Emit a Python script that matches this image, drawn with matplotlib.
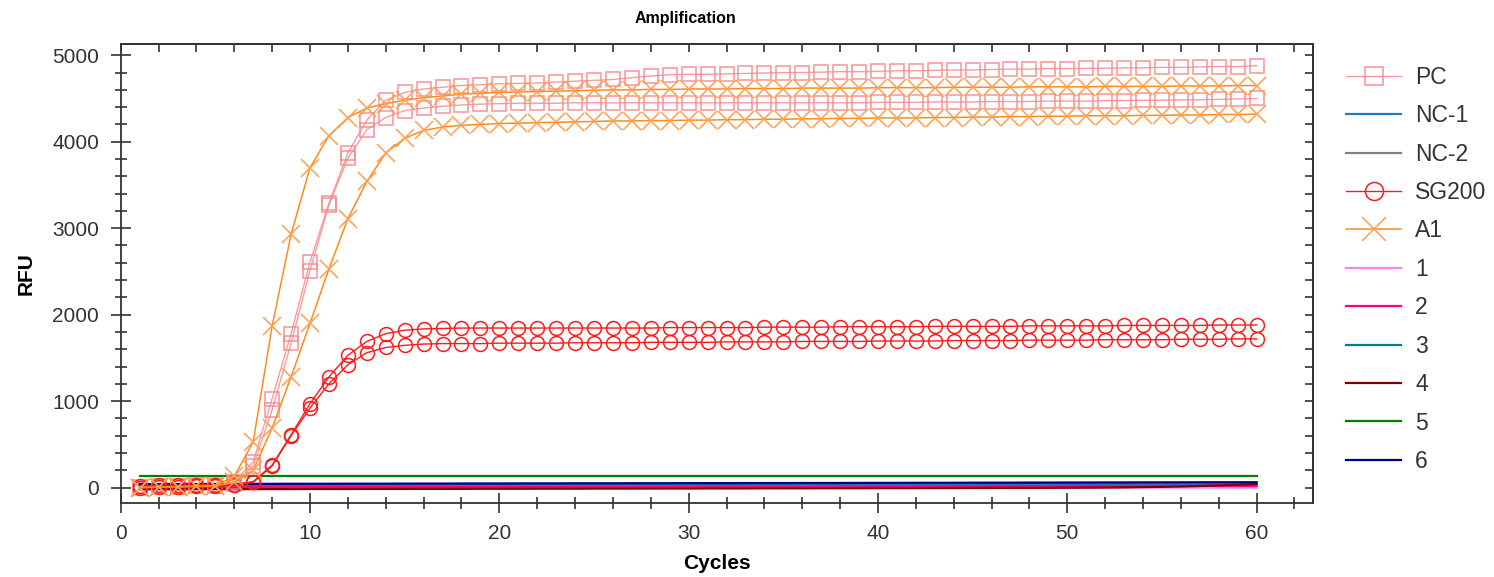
import matplotlib.pyplot as plt
from matplotlib.ticker import MultipleLocator

plt.rcParams['font.family'] = ['Liberation Sans', 'DejaVu Sans']

cycles = list(range(1, 61))

# positive control, two replicates
pc_a = [10, 15, 20, 25, 30, 60, 300, 1030, 1780, 2610,
        3290, 3870, 4250, 4480, 4570, 4610, 4630, 4650, 4660, 4670,
        4675, 4680, 4690, 4700, 4710, 4720, 4740, 4760, 4775, 4780,
        4780, 4785, 4790, 4795, 4800, 4800, 4805, 4810, 4810, 4815,
        4820, 4820, 4825, 4830, 4830, 4835, 4840, 4840, 4845, 4845,
        4850, 4850, 4855, 4855, 4860, 4860, 4865, 4870, 4870, 4880]
pc_b = [0, 5, 10, 15, 20, 40, 250, 900, 1670, 2510,
        3270, 3810, 4140, 4280, 4360, 4390, 4410, 4425, 4435, 4440,
        4445, 4445, 4445, 4450, 4450, 4450, 4450, 4450, 4450, 4450,
        4450, 4450, 4450, 4450, 4450, 4450, 4450, 4450, 4450, 4455,
        4455, 4455, 4460, 4460, 4460, 4465, 4465, 4465, 4470, 4470,
        4470, 4475, 4475, 4480, 4480, 4485, 4485, 4490, 4495, 4500]

# SG200, two replicates
sg_a = [20, 25, 25, 30, 30, 35, 70, 260, 610, 970,
        1280, 1530, 1690, 1780, 1820, 1835, 1840, 1845, 1845, 1845,
        1845, 1845, 1845, 1845, 1845, 1845, 1845, 1845, 1850, 1850,
        1850, 1850, 1850, 1855, 1855, 1855, 1855, 1860, 1860, 1860,
        1860, 1860, 1865, 1865, 1865, 1865, 1865, 1870, 1870, 1870,
        1870, 1870, 1875, 1875, 1875, 1875, 1875, 1880, 1880, 1880]
sg_b = [0, 5, 10, 15, 20, 25, 60, 250, 600, 920,
        1200, 1420, 1560, 1620, 1645, 1660, 1665, 1665, 1665, 1670,
        1670, 1670, 1670, 1675, 1675, 1675, 1675, 1680, 1680, 1680,
        1680, 1685, 1685, 1685, 1685, 1690, 1690, 1690, 1690, 1695,
        1695, 1695, 1695, 1700, 1700, 1700, 1700, 1705, 1705, 1705,
        1705, 1710, 1710, 1710, 1710, 1715, 1715, 1715, 1720, 1720]

# A1, two replicates
a1_a = [0, 5, 10, 15, 20, 130, 530, 1870, 2930, 3700,
        4070, 4280, 4390, 4440, 4480, 4510, 4530, 4550, 4560, 4570,
        4575, 4580, 4585, 4590, 4595, 4600, 4600, 4605, 4605, 4610,
        4610, 4610, 4615, 4615, 4615, 4620, 4620, 4620, 4620, 4625,
        4625, 4625, 4625, 4630, 4630, 4630, 4630, 4635, 4635, 4635,
        4635, 4640, 4640, 4640, 4640, 4645, 4645, 4645, 4650, 4650]
a1_b = [0, 5, 10, 15, 20, 60, 200, 690, 1280, 1900,
        2530, 3110, 3540, 3870, 4040, 4130, 4170, 4190, 4200, 4210,
        4215, 4220, 4225, 4230, 4235, 4240, 4240, 4245, 4245, 4250,
        4250, 4255, 4255, 4260, 4260, 4265, 4265, 4270, 4270, 4275,
        4275, 4275, 4280, 4280, 4285, 4285, 4290, 4290, 4295, 4295,
        4300, 4300, 4300, 4305, 4305, 4310, 4310, 4315, 4315, 4320]

# flat traces near the baseline
nc1 = [20, 20, 20, 21, 21, 21, 22, 22, 22, 23,
       23, 23, 24, 24, 24, 25, 25, 25, 25, 26,
       26, 26, 26, 27, 27, 27, 27, 28, 28, 28,
       28, 28, 29, 29, 29, 29, 29, 30, 30, 30,
       30, 30, 30, 31, 31, 31, 31, 31, 31, 32,
       32, 32, 32, 32, 32, 33, 33, 33, 33, 33]
nc2 = [10, 10, 10, 10, 11, 11, 11, 11, 11, 12,
       12, 12, 12, 12, 12, 12, 13, 13, 13, 13,
       13, 13, 13, 13, 14, 14, 14, 14, 14, 14,
       14, 14, 14, 14, 15, 15, 15, 15, 15, 15,
       15, 15, 15, 15, 15, 15, 16, 16, 16, 16,
       16, 16, 16, 16, 16, 16, 16, 16, 16, 16]
s1 = [-10, -10, -10, -9, -9, -9, -9, -8, -8, -8,
      -8, -8, -7, -7, -7, -7, -7, -6, -6, -6,
      -6, -6, -5, -5, -5, -5, -5, -4, -4, -4,
      -4, -4, -3, -3, -3, -3, -3, -2, -2, -2,
      -2, -2, -2, -1, -1, -1, -1, -1, -1, 0,
      0, 0, 0, 0, 0, 0, 0, 0, 0, 0]
s2 = [0, 1, 1, 2, 2, 3, 3, 4, 4, 5,
      5, 5, 6, 6, 6, 7, 7, 7, 8, 8,
      8, 9, 9, 9, 10, 10, 10, 11, 11, 11,
      12, 12, 12, 13, 13, 13, 14, 14, 14, 15,
      15, 15, 16, 16, 16, 17, 17, 17, 17, 18,
      18, 18, 18, 19, 19, 19, 19, 20, 20, 20]
s3 = [30, 31, 31, 32, 32, 33, 33, 34, 34, 35,
      35, 36, 36, 37, 37, 38, 38, 39, 39, 40,
      40, 41, 41, 42, 42, 43, 43, 44, 44, 45,
      45, 46, 46, 47, 47, 48, 48, 49, 49, 50,
      50, 51, 51, 52, 52, 53, 53, 54, 54, 55,
      55, 56, 56, 57, 57, 58, 58, 59, 59, 60]
s4 = [-20, -20, -20, -19, -19, -19, -18, -18, -18, -17,
      -17, -17, -16, -16, -16, -15, -15, -15, -14, -14,
      -14, -13, -13, -13, -12, -12, -12, -11, -11, -11,
      -10, -10, -10, -9, -9, -9, -8, -8, -8, -7,
      -7, -7, -6, -6, -5, -5, -4, -4, -3, -2,
      -1, 0, 2, 5, 8, 12, 18, 25, 32, 40]
s5 = [135, 135, 135, 135, 135, 135, 135, 135, 135, 135,
      135, 135, 135, 135, 135, 135, 135, 135, 135, 135,
      135, 135, 135, 135, 135, 135, 135, 135, 135, 135,
      135, 135, 135, 135, 135, 135, 135, 135, 135, 135,
      135, 135, 135, 135, 135, 135, 135, 135, 135, 135,
      135, 135, 135, 135, 135, 135, 135, 135, 135, 135]
s6 = [40, 40, 41, 41, 42, 42, 43, 43, 44, 44,
      44, 45, 45, 45, 46, 46, 46, 47, 47, 47,
      48, 48, 48, 49, 49, 49, 50, 50, 50, 51,
      51, 51, 52, 52, 52, 53, 53, 53, 54, 54,
      54, 55, 55, 55, 56, 56, 56, 57, 57, 57,
      58, 58, 58, 59, 59, 59, 60, 60, 60, 60]

pc_color = "#F78B8F"
sg_color = "#FF1A1A"
a1_color = "#FF8C1A"

fig = plt.figure(figsize=(14.94, 5.77), dpi=100)
ax = fig.add_axes([0.0808, 0.1288, 0.7983, 0.7949])

# baseline traces first so the curves sit on top
flat = [(nc1, "#1F7EC2", "NC-1"), (nc2, "#808080", "NC-2"),
        (s1, "#FF7FFF", "1"), (s2, "#FF0080", "2"),
        (s3, "#008080", "3"), (s4, "#800000", "4"),
        (s5, "#008000", "5"), (s6, "#00008B", "6")]
flat_handles = {}
for ys, col, lab in flat:
    ln, = ax.plot(cycles, ys, color=col, lw=1.6, label=lab)
    flat_handles[lab] = ln

pc_h = None
for ys in (pc_a, pc_b):
    pc_h, = ax.plot(cycles, ys, color=pc_color, lw=1.0, marker="s", ms=10,
                    mfc="none", mec=pc_color, mew=1.2, alpha=0.85)
sg_h = None
for ys in (sg_a, sg_b):
    sg_h, = ax.plot(cycles, ys, color=sg_color, lw=1.0, marker="o", ms=10,
                    mfc="none", mec=sg_color, mew=1.1)
a1_h = None
for ys in (a1_a, a1_b):
    a1_h, = ax.plot(cycles, ys, color=a1_color, lw=1.1, marker="x", ms=13,
                    mec="#FFA050", mew=1.1)

ax.set_xlim(0, 63)
ax.set_ylim(-175, 5130)
ax.xaxis.set_major_locator(MultipleLocator(10))
ax.xaxis.set_minor_locator(MultipleLocator(2))
ax.yaxis.set_major_locator(MultipleLocator(1000))
ax.yaxis.set_minor_locator(MultipleLocator(200))
ax.tick_params(which="major", direction="inout", length=15, width=1.2,
               labelsize=15, labelcolor="#333333", color="#333333")
ax.tick_params(which="minor", direction="inout", length=8, width=1.2,
               color="#333333")
ax.tick_params(axis="y", pad=8)
ax.tick_params(axis="x", pad=8)

# short inward ticks along the top and right edges
top = ax.secondary_xaxis("top")
top.xaxis.set_major_locator(MultipleLocator(2))
top.tick_params(direction="in", length=6, width=1.2, labeltop=False,
                color="#333333")
right = ax.secondary_yaxis("right")
right.yaxis.set_major_locator(MultipleLocator(200))
right.tick_params(direction="in", length=6, width=1.2, labelright=False,
                  color="#333333")
for sp in list(ax.spines.values()) + [top.spines["top"], right.spines["right"]]:
    sp.set_linewidth(1.3)
    sp.set_color("#333333")

ax.set_xlabel("Cycles", fontsize=15, fontweight="bold", labelpad=8)
ax.set_ylabel("RFU", fontsize=15, fontweight="bold", labelpad=12)
fig.text(0.4585, 0.968, "Amplification", fontsize=11.5, fontweight="bold",
         ha="center", va="center")

handles = [pc_h, flat_handles["NC-1"], flat_handles["NC-2"], sg_h, a1_h,
           flat_handles["1"], flat_handles["2"], flat_handles["3"],
           flat_handles["4"], flat_handles["5"], flat_handles["6"]]
labels = ["PC", "NC-1", "NC-2", "SG200", "A1", "1", "2", "3", "4", "5", "6"]
ax.legend(handles, labels, loc="upper left", bbox_to_anchor=(0.895, 0.902),
          bbox_transform=fig.transFigure, frameon=False, fontsize=16.5,
          handlelength=2.4, handletextpad=0.6, labelspacing=0.673,
          borderaxespad=0, labelcolor="#333333", markerscale=1.3)

fig.savefig("out.png", dpi=100)
